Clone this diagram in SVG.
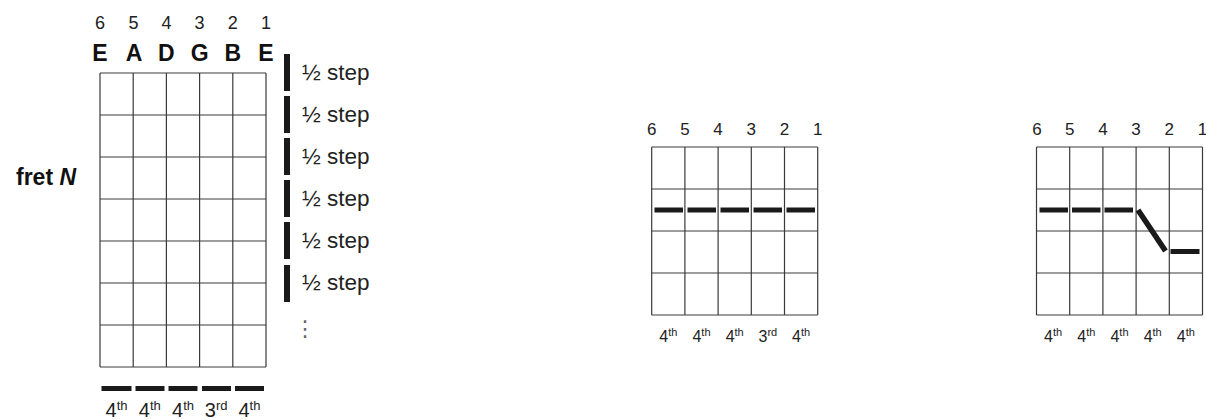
<svg xmlns="http://www.w3.org/2000/svg" width="1206" height="420" viewBox="0 0 1206 420">
<style>
.grid line{stroke:#3a3a3a;stroke-width:1.2}
.bar{fill:#1a1a1a}
.num{font-family:"Liberation Sans",Arial,sans-serif;fill:#222;text-anchor:middle}
.note{font-family:"Liberation Sans",Arial,sans-serif;font-weight:bold;fill:#111;text-anchor:middle;font-size:23px}
.step{font-family:"Liberation Sans",Arial,sans-serif;fill:#222;font-size:22.5px}
.lbl{font-family:"Liberation Sans",Arial,sans-serif;fill:#222;text-anchor:middle}
</style>
<rect width="1206" height="420" fill="#ffffff"/>

<g id="left-diagram">
  <g class="num" font-size="18">
    <text x="100" y="29">6</text><text x="133.6" y="29">5</text><text x="166.4" y="29">4</text>
    <text x="199.6" y="29">3</text><text x="232.8" y="29">2</text><text x="266" y="29">1</text>
  </g>
  <g>
    <text class="note" x="100" y="61">E</text><text class="note" x="134" y="61">A</text><text class="note" x="166.4" y="61">D</text>
    <text class="note" x="199.6" y="61">G</text><text class="note" x="232.8" y="61">B</text><text class="note" x="266" y="61">E</text>
  </g>
  <g class="grid">
    <line x1="100" y1="73" x2="266" y2="73"/><line x1="100" y1="115" x2="266" y2="115"/>
    <line x1="100" y1="157" x2="266" y2="157"/><line x1="100" y1="199" x2="266" y2="199"/>
    <line x1="100" y1="241" x2="266" y2="241"/><line x1="100" y1="283" x2="266" y2="283"/>
    <line x1="100" y1="325" x2="266" y2="325"/><line x1="100" y1="367" x2="266" y2="367"/>
    <line x1="100" y1="73" x2="100" y2="367"/><line x1="133.2" y1="73" x2="133.2" y2="367"/>
    <line x1="166.4" y1="73" x2="166.4" y2="367"/><line x1="199.6" y1="73" x2="199.6" y2="367"/>
    <line x1="232.8" y1="73" x2="232.8" y2="367"/><line x1="266" y1="73" x2="266" y2="367"/>
  </g>
  <text x="16" y="185" font-family="Liberation Sans, Arial, sans-serif" font-weight="bold" font-size="23" fill="#111">fret <tspan font-style="italic">N</tspan></text>
  <g id="half-steps">
    <rect class="bar" x="284" y="54" width="6" height="37"/>
    <rect class="bar" x="284" y="96" width="6" height="37"/>
    <rect class="bar" x="284" y="138" width="6" height="37"/>
    <rect class="bar" x="284" y="180" width="6" height="37"/>
    <rect class="bar" x="284" y="222" width="6" height="37"/>
    <rect class="bar" x="284" y="265" width="6" height="37"/>
    <text class="step" x="302" y="80">½ step</text>
    <text class="step" x="302" y="122">½ step</text>
    <text class="step" x="302" y="164">½ step</text>
    <text class="step" x="302" y="206">½ step</text>
    <text class="step" x="302" y="248">½ step</text>
    <text class="step" x="302" y="290">½ step</text>
    <text x="305" y="336" font-family="DejaVu Sans, sans-serif" font-size="22" fill="#666" text-anchor="middle">⋮</text>
  </g>
  <g id="left-bars">
    <rect class="bar" x="101.5" y="386" width="30" height="5"/>
    <rect class="bar" x="135.5" y="386" width="29" height="5"/>
    <rect class="bar" x="168.5" y="386" width="29" height="5"/>
    <rect class="bar" x="202" y="386" width="29" height="5"/>
    <rect class="bar" x="235" y="386" width="29" height="5"/>
  </g>
  <g class="lbl" font-size="20">
    <text x="116.6" y="417">4<tspan font-size="13" dy="-7">th</tspan></text>
    <text x="149.8" y="417">4<tspan font-size="13" dy="-7">th</tspan></text>
    <text x="183" y="417">4<tspan font-size="13" dy="-7">th</tspan></text>
    <text x="216.2" y="417">3<tspan font-size="13" dy="-7">rd</tspan></text>
    <text x="249.4" y="417">4<tspan font-size="13" dy="-7">th</tspan></text>
  </g>
</g>

<g id="middle-diagram">
  <g class="num" font-size="17">
    <text x="651.7" y="135">6</text><text x="684.9" y="135">5</text><text x="718.1" y="135">4</text>
    <text x="751.3" y="135">3</text><text x="784.5" y="135">2</text><text x="817.7" y="135">1</text>
  </g>
  <g class="grid">
    <line x1="651.7" y1="147" x2="817.7" y2="147"/><line x1="651.7" y1="189" x2="817.7" y2="189"/>
    <line x1="651.7" y1="231" x2="817.7" y2="231"/><line x1="651.7" y1="273" x2="817.7" y2="273"/>
    <line x1="651.7" y1="315" x2="817.7" y2="315"/>
    <line x1="651.7" y1="147" x2="651.7" y2="315"/><line x1="684.9" y1="147" x2="684.9" y2="315"/>
    <line x1="718.1" y1="147" x2="718.1" y2="315"/><line x1="751.3" y1="147" x2="751.3" y2="315"/>
    <line x1="784.5" y1="147" x2="784.5" y2="315"/><line x1="817.7" y1="147" x2="817.7" y2="315"/>
  </g>
  <g id="middle-bars">
    <rect class="bar" x="654.5" y="207.5" width="28.5" height="5"/>
    <rect class="bar" x="687.5" y="207.5" width="28.5" height="5"/>
    <rect class="bar" x="720.5" y="207.5" width="28.5" height="5"/>
    <rect class="bar" x="753.5" y="207.5" width="28.5" height="5"/>
    <rect class="bar" x="786.5" y="207.5" width="28.5" height="5"/>
  </g>
  <g class="lbl" font-size="16">
    <text x="668.3" y="342">4<tspan font-size="11" dy="-6">th</tspan></text>
    <text x="701.5" y="342">4<tspan font-size="11" dy="-6">th</tspan></text>
    <text x="734.7" y="342">4<tspan font-size="11" dy="-6">th</tspan></text>
    <text x="767.9" y="342">3<tspan font-size="11" dy="-6">rd</tspan></text>
    <text x="801.1" y="342">4<tspan font-size="11" dy="-6">th</tspan></text>
  </g>
</g>

<g id="right-diagram">
  <g class="num" font-size="17">
    <text x="1037" y="135">6</text><text x="1069.7" y="135">5</text><text x="1102.9" y="135">4</text>
    <text x="1136.1" y="135">3</text><text x="1169.3" y="135">2</text><text x="1202.5" y="135">1</text>
  </g>
  <g class="grid">
    <line x1="1036.5" y1="147" x2="1202.5" y2="147"/><line x1="1036.5" y1="189" x2="1202.5" y2="189"/>
    <line x1="1036.5" y1="231" x2="1202.5" y2="231"/><line x1="1036.5" y1="273" x2="1202.5" y2="273"/>
    <line x1="1036.5" y1="315" x2="1202.5" y2="315"/>
    <line x1="1036.5" y1="147" x2="1036.5" y2="315"/><line x1="1069.7" y1="147" x2="1069.7" y2="315"/>
    <line x1="1102.9" y1="147" x2="1102.9" y2="315"/><line x1="1136.1" y1="147" x2="1136.1" y2="315"/>
    <line x1="1169.3" y1="147" x2="1169.3" y2="315"/><line x1="1202.5" y1="147" x2="1202.5" y2="315"/>
  </g>
  <g id="right-bars">
    <rect class="bar" x="1039.5" y="207.5" width="28.5" height="5"/>
    <rect class="bar" x="1072" y="207.5" width="28.5" height="5"/>
    <rect class="bar" x="1104.5" y="207.5" width="28.5" height="5"/>
    <line x1="1138" y1="210" x2="1165.5" y2="251" stroke="#1a1a1a" stroke-width="5.5"/>
    <rect class="bar" x="1170.5" y="249" width="29" height="5"/>
  </g>
  <g class="lbl" font-size="16">
    <text x="1053.1" y="342">4<tspan font-size="11" dy="-6">th</tspan></text>
    <text x="1086.3" y="342">4<tspan font-size="11" dy="-6">th</tspan></text>
    <text x="1119.5" y="342">4<tspan font-size="11" dy="-6">th</tspan></text>
    <text x="1152.7" y="342">4<tspan font-size="11" dy="-6">th</tspan></text>
    <text x="1185.9" y="342">4<tspan font-size="11" dy="-6">th</tspan></text>
  </g>
</g>
</svg>
